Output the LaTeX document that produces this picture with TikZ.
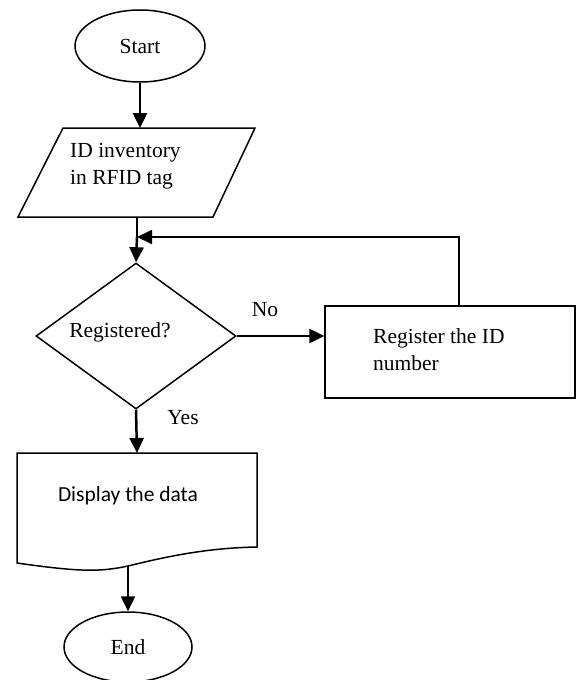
\documentclass[tikz,border=0pt]{standalone}
\usepackage{fontspec}
\setmainfont{Liberation Serif}
\newfontfamily\calib{Carlito}
\usetikzlibrary{shapes.geometric,arrows.meta,calc}
\begin{document}
\begin{tikzpicture}[x=1pt,y=-1pt,
  shp/.style={draw,line width=1.5pt,inner sep=0pt},
  conn/.style={line width=2.5pt,-{Triangle[length=15pt,width=14pt]}},
  plain/.style={line width=2pt},
  txt/.style={font=\fontsize{21.5}{27}\selectfont,inner sep=0pt,align=left}]
\useasboundingbox (0,0) rectangle (576,680);
% shapes
\node[shp,ellipse,minimum width=130pt,minimum height=72pt] (start) at (140,46) {};
\node[txt] (starttxt) at (140,46) {Start};
\draw[line width=1.5pt] (63,128) -- (255,128) -- (213,217) -- (18,217) -- cycle;
\coordinate (inptop) at (140,128);
\coordinate (inpbot) at (137,217);
\node[txt,anchor=west] (inptxt) at (70,166) {ID inventory\\in RFID tag};
\node[shp,diamond,minimum width=200pt,minimum height=146pt,aspect=1.37] (dia) at (136,336) {};
\node[txt] (diatxt) at (120,332) {Registered?};
\node[shp,rectangle,minimum width=250pt,minimum height=92pt] (reg) at (450,352) {};
\node[txt,anchor=west] (regtxt) at (373,350) {Register the ID\\number};
\draw[line width=1.5pt] (17,453) -- (257,453) -- (257,547)
   .. controls (205,548) and (165,557) .. (128,566)
   .. controls (100,572) and (80,572) .. (17,563) -- cycle;
\coordinate (doctop) at (137,453);
\coordinate (docbot) at (128,566);
\node[txt,font=\calib\fontsize{21.5}{26}\selectfont] (doctxt) at (128,496) {Display the data};
\node[shp,ellipse,minimum width=128pt,minimum height=70pt] (end) at (128,647) {};
\node[txt] (endtxt) at (128,647) {End};
% labels
\node[txt] (no) at (265,310) {No};
\node[txt] (yes) at (183,418) {Yes};
% connectors
\coordinate (join) at (137,237);
\draw[conn] (start.south) -- (inptop);
\draw[plain] (inpbot) -- (join);
\draw[conn] (join) -- (dia.north);
\draw[conn] (dia.east) -- (dia.east -| reg.west);
\draw[plain,line width=1.8pt,-{Triangle[length=15pt,width=14pt]}] ([xshift=9pt]reg.north) |- (join);
\draw[conn] (dia.south) -- (doctop);
\draw[conn] (docbot) -- (end.north);
\end{tikzpicture}
\end{document}
